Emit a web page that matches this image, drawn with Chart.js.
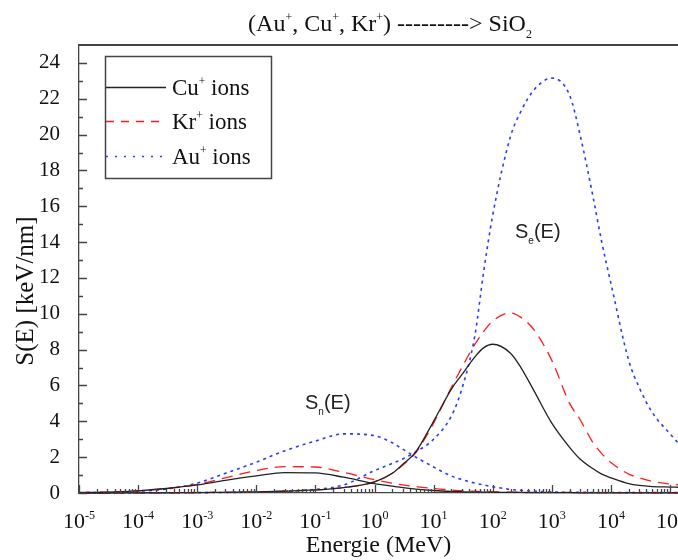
<!DOCTYPE html>
<html>
<head>
<meta charset="utf-8">
<script src="https://cdn.jsdelivr.net/npm/chart.js@4.4.1/dist/chart.umd.min.js"></script>
<style>
html, body { margin: 0; padding: 0; background: #fff; }
#wrap { width: 678px; height: 560px; }
</style>
</head>
<body>
<div id="wrap"><canvas id="myChart" width="678" height="560"></canvas></div>
<script>
// energy grid (MeV) shared by every curve
var energies = [1e-5, 3e-5, 1e-4, 3e-4, 1e-3, 3e-3, 0.01, 0.03, 0.1, 0.3, 1, 2, 3, 5, 10, 20, 30, 50, 70, 100, 200, 300, 500, 1000, 2000, 3000, 5000, 7000, 1e4, 2e4, 3e4, 5e4, 1e5, 1.365e5];

// nuclear stopping Sn(E), keV/nm
var cuNuclear = [0.02, 0.05, 0.12, 0.25, 0.45, 0.7, 0.95, 1.14, 1.12, 0.88, 0.52, 0.38, 0.3, 0.22, 0.14, 0.09, 0.07, 0.05, 0.045, 0.04, 0.03, 0.03, 0.02, 0.02, 0.02, 0.01, 0.01, 0.01, 0.01, 0.01, 0.01, 0.01, 0.01, 0.01];
var krNuclear = [0.02, 0.05, 0.12, 0.25, 0.48, 0.85, 1.25, 1.47, 1.45, 1.15, 0.74, 0.55, 0.45, 0.36, 0.25, 0.17, 0.13, 0.1, 0.08, 0.07, 0.05, 0.04, 0.04, 0.03, 0.03, 0.02, 0.02, 0.02, 0.02, 0.02, 0.02, 0.01, 0.01, 0.01];
var auNuclear = [0.02, 0.04, 0.1, 0.22, 0.55, 1.1, 1.72, 2.35, 2.9, 3.3, 3.2, 2.8, 2.45, 2.0, 1.45, 0.95, 0.75, 0.55, 0.45, 0.35, 0.2, 0.15, 0.1, 0.06, 0.04, 0.04, 0.03, 0.03, 0.03, 0.02, 0.02, 0.02, 0.02, 0.02];

// electronic stopping Se(E), keV/nm
var cuElectronic = [0, 0, 0.01, 0.01, 0.02, 0.04, 0.06, 0.1, 0.17, 0.3, 0.62, 1.1, 1.6, 2.3, 4.0, 5.8, 6.6, 7.6, 8.1, 8.3, 7.8, 7.0, 5.7, 3.9, 2.55, 1.9, 1.35, 1.05, 0.85, 0.52, 0.42, 0.36, 0.33, 0.32];
var krElectronic = [0, 0, 0.01, 0.01, 0.02, 0.04, 0.06, 0.1, 0.17, 0.3, 0.62, 1.1, 1.55, 2.25, 3.9, 5.9, 7.0, 8.3, 9.0, 9.6, 10.05, 9.8, 9.1, 7.4, 5.0, 4.1, 2.8, 2.2, 1.7, 1.05, 0.85, 0.65, 0.5, 0.45];
var auElectronic = [0, 0, 0.01, 0.01, 0.02, 0.03, 0.05, 0.1, 0.2, 0.45, 1.25, 1.65, 1.9, 2.3, 3.0, 4.3, 5.8, 8.8, 12.3, 15.5, 19.9, 21.3, 22.5, 23.15, 22.2, 20.0, 16.5, 14.0, 11.7, 7.4, 5.9, 4.5, 3.3, 2.8];

var xTickExps = [-5, -4, -3, -2, -1, 0, 1, 2, 3, 4, 5];
var yTicks = [0, 2, 4, 6, 8, 10, 12, 14, 16, 18, 20, 22, 24];

var ions = [
    { name: 'Cu', color: '#222222', dash: [], width: 1.3 },
    { name: 'Kr', color: '#ff1a1a', dash: [11, 7], width: 1.3 },
    { name: 'Au', color: '#2a3bff', dash: [3, 4], width: 1.6 }
];

var SERIF = '"Liberation Serif", "Times New Roman", serif';
var SANS = '"Liberation Sans", Arial, sans-serif';

function points(values) {
    return energies.map(function(e, i) { return { x: e, y: values[i] }; });
}

function curve(values, ion) {
    return {
        label: ion.name,
        data: points(values),
        borderColor: ion.color,
        borderDash: ion.dash,
        borderWidth: ion.width,
        pointRadius: 0,
        fill: false,
        cubicInterpolationMode: 'monotone',
        clip: false
    };
}

// text with superscript (1) / subscript (-1) pieces
function drawRich(ctx, parts, x, y, size, family, align, small) {
    small = small || 0.58;
    var widths = parts.map(function(p) {
        ctx.font = (p[1] ? size * small : size) + 'px ' + family;
        return ctx.measureText(p[0]).width;
    });
    var total = widths.reduce(function(a, b) { return a + b; }, 0);
    var cx = align === 'center' ? x - total / 2 : x;
    ctx.textAlign = 'left';
    ctx.textBaseline = 'alphabetic';
    parts.forEach(function(p, i) {
        ctx.font = (p[1] ? size * small : size) + 'px ' + family;
        var dy = p[1] === 1 ? -size * 0.42 : (p[1] === -1 ? size * 0.3 : 0);
        ctx.fillText(p[0], cx, y + dy);
        cx += widths[i];
    });
}

var decor = {
    id: 'decor',
    afterDatasetsDraw: function(chart) {
        var ctx = chart.ctx;
        var xs = chart.scales.x, ys = chart.scales.y;
        var area = chart.chartArea;
        ctx.save();
        ctx.strokeStyle = '#444';

        // top frame line
        ctx.lineWidth = 1.8;
        ctx.beginPath();
        ctx.moveTo(area.left, area.top);
        ctx.lineTo(area.right, area.top);
        ctx.stroke();

        // inward ticks on y
        ctx.lineWidth = 1.3;
        ctx.beginPath();
        for (var v = 0; v <= 24; v++) {
            var py = Math.round(ys.getPixelForValue(v)) + 0.5;
            var len = v % 2 === 0 ? 8 : 4;
            ctx.moveTo(area.left, py);
            ctx.lineTo(area.left + len, py);
        }
        // inward ticks on x (log)
        xTickExps.forEach(function(n) {
            for (var k = 1; k <= 9; k++) {
                var e = k * Math.pow(10, n);
                if (e > xs.max) break;
                var px = Math.round(xs.getPixelForValue(e)) + 0.5;
                ctx.moveTo(px, area.bottom);
                ctx.lineTo(px, area.bottom - (k === 1 ? 8 : 4));
            }
        });
        ctx.stroke();

        // x tick labels 10^n
        ctx.fillStyle = '#111';
        xTickExps.forEach(function(n) {
            var px = xs.getPixelForValue(Math.pow(10, n));
            drawRich(ctx, [['10', 0], [String(n), 1]], px, 528, 22, SERIF, 'center', 0.55);
        });

        // y axis title
        ctx.save();
        ctx.translate(33, 291);
        ctx.rotate(-Math.PI / 2);
        ctx.font = '25px ' + SERIF;
        ctx.textAlign = 'center';
        ctx.textBaseline = 'alphabetic';
        ctx.fillText('S(E) [keV/nm]', 0, 0);
        ctx.restore();

        // chart title
        drawRich(ctx, [['(Au', 0], ['+', 1], [', Cu', 0], ['+', 1], [', Kr', 0], ['+', 1], [') ---------> SiO', 0], ['2', -1]], 390, 31, 24, SERIF, 'center', 0.5);

        // legend box
        ctx.lineWidth = 1.5;
        ctx.strokeStyle = '#444';
        ctx.strokeRect(105.5, 56.5, 166, 122);
        var rows = [87, 121, 156];
        ions.forEach(function(ion, i) {
            var y = rows[i];
            ctx.save();
            ctx.strokeStyle = ion.color;
            ctx.lineWidth = ion.width;
            ctx.setLineDash(ion.dash.length ? [8, 7] : []);
            if (ion.name === 'Au') ctx.setLineDash([2, 7]);
            ctx.beginPath();
            ctx.moveTo(106, y + 0.5);
            ctx.lineTo(166, y + 0.5);
            ctx.stroke();
            ctx.restore();
            ctx.fillStyle = '#111';
            drawRich(ctx, [[ion.name, 0], ['+', 1], [' ions', 0]], 172, y + 8, 23, SERIF, 'left', 0.5);
        });

        // curve annotations
        ctx.fillStyle = '#222';
        drawRich(ctx, [['S', 0], ['n', -1], ['(E)', 0]], 305, 409, 20, SANS, 'left', 0.5);
        drawRich(ctx, [['S', 0], ['e', -1], ['(E)', 0]], 515, 238, 20, SANS, 'left', 0.5);

        ctx.restore();
    }
};

var ctx = document.getElementById('myChart');

var myChart = new Chart(ctx, {
    type: 'line',
    data: {
        datasets: [
            curve(cuNuclear, ions[0]),
            curve(krNuclear, ions[1]),
            curve(auNuclear, ions[2]),
            curve(cuElectronic, ions[0]),
            curve(krElectronic, ions[1]),
            curve(auElectronic, ions[2])
        ]
    },
    options: {
        responsive: false,
        animation: false,
        layout: { padding: { top: 45, left: 0, right: 0, bottom: 0 } },
        plugins: {
            legend: { display: false },
            title: { display: false },
            tooltip: { enabled: false }
        },
        scales: {
            x: {
                type: 'logarithmic',
                min: 1e-5,
                max: 1.365e5,
                afterFit: function(scale) { scale.height = 67; },
                ticks: { display: false },
                grid: { display: false },
                border: { display: true, color: '#444', width: 1.3 },
                title: {
                    display: true,
                    text: 'Energie (MeV)',
                    color: '#111',
                    font: { family: SERIF, size: 24 },
                    padding: { top: 0, bottom: 0 }
                }
            },
            y: {
                type: 'linear',
                min: 0,
                max: 25,
                afterFit: function(scale) { scale.width = 79; },
                afterBuildTicks: function(scale) {
                    scale.ticks = yTicks.map(function(v) { return { value: v }; });
                },
                ticks: {
                    color: '#111',
                    padding: 11,
                    font: { family: SERIF, size: 21 }
                },
                grid: { display: false },
                border: { display: true, color: '#444', width: 1.3 }
            }
        }
    },
    plugins: [decor]
});
</script>
</body>
</html>
